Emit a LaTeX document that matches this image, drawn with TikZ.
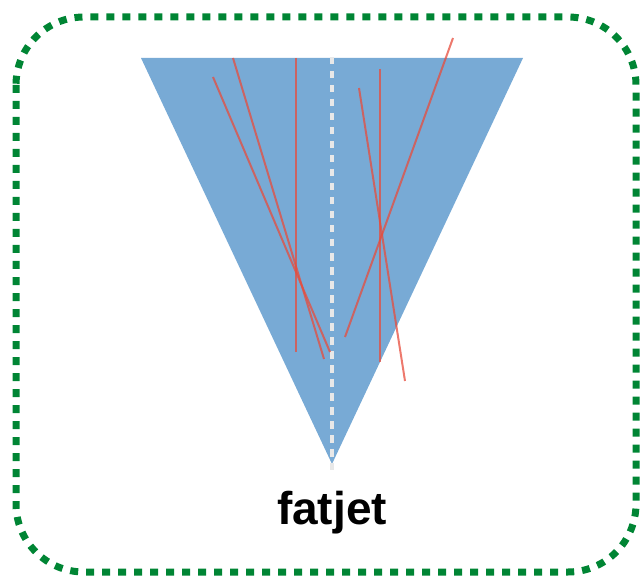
\documentclass[tikz,border=0pt]{standalone}
\usepackage{fontspec}
\setmainfont{Liberation Sans}
\definecolor{bordergreen}{RGB}{0,133,52}
\definecolor{coneblue}{RGB}{120,170,213}
\definecolor{trackred}{RGB}{231,76,60}
\definecolor{axisgray}{RGB}{232,232,232}
\tikzset{
  frame/.style={draw=bordergreen, line width=7pt, dash pattern=on 8pt off 8pt, rounded corners=68pt},
  cone/.style={fill=coneblue, draw=none},
  track/.style={draw=trackred, draw opacity=0.75, line width=2pt},
  jetaxis/.style={draw=axisgray, line width=3.5pt, dash pattern=on 7.5pt off 6.5pt},
  label/.style={font=\bfseries\fontsize{46}{52}\selectfont, inner sep=0pt}
}
\begin{document}
\begin{tikzpicture}[x=1pt,y=-1pt]
\useasboundingbox (0,0) rectangle (642,577);
\draw[frame] (16,17) rectangle (636,572);
% cone
\coordinate (tl) at (141,58);
\coordinate (tr) at (523,58);
\coordinate (apex) at (332,464);
\fill[cone] (tl) -- (tr) -- (apex) -- cycle;
% jet axis
\coordinate (axtop) at (332,57);
\coordinate (axbot) at (332,470);
\draw[jetaxis] (axtop) -- (axbot);
% tracks
\coordinate (a1) at (233,58);  \coordinate (a2) at (324,359);
\coordinate (b1) at (213,77);  \coordinate (b2) at (330,352);
\coordinate (c1) at (296,58);  \coordinate (c2) at (296,352);
\coordinate (d1) at (380,69);  \coordinate (d2) at (380,362);
\coordinate (e1) at (359,88);  \coordinate (e2) at (405,381);
\coordinate (f1) at (453,38);  \coordinate (f2) at (345,337);
\draw[track] (a1) -- (a2);
\draw[track] (b1) -- (b2);
\draw[track] (c1) -- (c2);
\draw[track] (d1) -- (d2);
\draw[track] (e1) -- (e2);
\draw[track] (f1) -- (f2);
% label
\node[label, anchor=base] (lbl) at (332,524) {fatjet};
\end{tikzpicture}
\end{document}
